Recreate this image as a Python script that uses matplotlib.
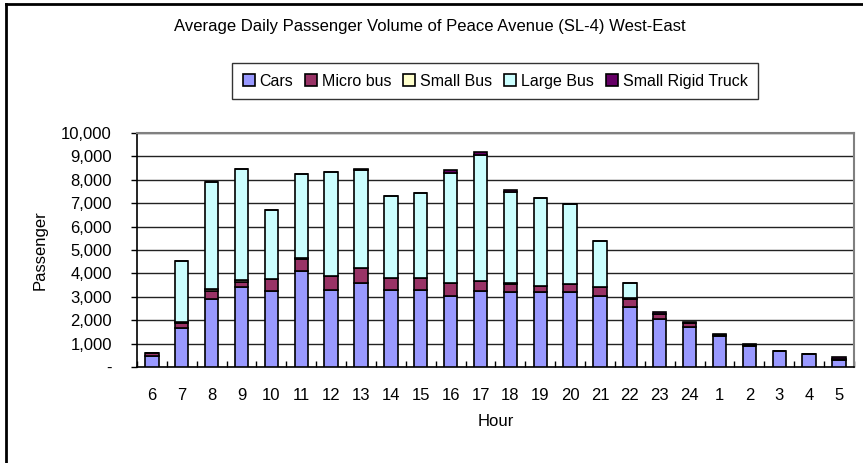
import matplotlib
matplotlib.use("Agg")
import matplotlib.pyplot as plt
import numpy as np
from matplotlib.ticker import FuncFormatter, FixedLocator

plt.rcParams['font.family'] = ['Liberation Sans', 'DejaVu Sans']

hours = ['6', '7', '8', '9', '10', '11', '12', '13', '14', '15', '16', '17',
         '18', '19', '20', '21', '22', '23', '24', '1', '2', '3', '4', '5']
cars = [450, 1650, 2900, 3400, 3250, 4100, 3300, 3600, 3300, 3300, 3050, 3250,
        3200, 3200, 3200, 3050, 2550, 2050, 1720, 1330, 910, 690, 560, 310]
micro_bus = [150, 230, 350, 250, 500, 500, 600, 650, 500, 500, 550, 420,
             330, 280, 330, 370, 350, 220, 180, 20, 20, 0, 0, 50]
small_bus = [0, 50, 100, 50, 0, 80, 0, 0, 0, 0, 0, 0,
             50, 0, 0, 0, 70, 0, 0, 0, 0, 0, 0, 0]
large_bus = [0, 2600, 4550, 4750, 2950, 3550, 4450, 4150, 3500, 3650, 4700, 5400,
             3900, 3750, 3450, 1950, 640, 0, 0, 0, 0, 0, 0, 0]
small_rigid_truck = [20, 0, 0, 0, 0, 0, 0, 80, 0, 0, 100, 110,
                     100, 0, 0, 0, 0, 80, 40, 50, 50, 0, 0, 50]

series = [
    ('Cars', cars, '#9999FF'),
    ('Micro bus', micro_bus, '#993366'),
    ('Small Bus', small_bus, '#FFFFCC'),
    ('Large Bus', large_bus, '#CCFFFF'),
    ('Small Rigid Truck', small_rigid_truck, '#660066'),
]

fig = plt.figure(figsize=(8.63, 4.63), dpi=100)
ax = fig.add_axes([0.1587, 0.2073, 0.8308, 0.5054])

x = np.arange(len(hours))
bottom = np.zeros(len(hours))
handles = []
for name, vals, color in series:
    vals = np.array(vals, dtype=float)
    b = ax.bar(x, vals, 0.45, bottom=bottom, color=color, edgecolor='black',
               linewidth=1.2, label=name, zorder=3)
    handles.append(b)
    bottom += vals

ax.set_xlim(-0.5, len(hours) - 0.5)
ax.set_ylim(0, 10000)
ax.set_yticks(np.arange(0, 10001, 1000))
ax.yaxis.set_major_formatter(FuncFormatter(lambda v, p: '-' if v == 0 else f'{v:,.0f}'))
ax.yaxis.grid(True, color='#222222', linewidth=1, zorder=0)

ax.set_xticks(x)
ax.set_xticklabels(hours)
ax.xaxis.set_minor_locator(FixedLocator(np.arange(-0.5, len(hours), 1)))
ax.tick_params(axis='x', which='major', length=0, pad=15, labelsize=12)
ax.tick_params(axis='x', which='minor', direction='in', length=4, width=1)
ax.tick_params(axis='y', which='major', length=4, width=1, pad=14, labelsize=12)

for s in ['top', 'right']:
    ax.spines[s].set_color('#808080')
    ax.spines[s].set_linewidth(1.5)
for s in ['left', 'bottom']:
    ax.spines[s].set_color('black')
    ax.spines[s].set_linewidth(1.2)

ax.set_xlabel('Hour', fontsize=12, labelpad=8)
fig.text(0.046, 0.46, 'Passenger', rotation=90, fontsize=12, ha='center', va='center')

fig.text(0.498, 0.942, 'Average Daily Passenger Volume of Peace Avenue (SL-4) West-East',
         fontsize=12, ha='center', va='center')

leg = fig.legend(handles=handles, loc='center', bbox_to_anchor=(0.5736, 0.825),
                 ncol=5, frameon=True, fancybox=False, shadow=False,
                 fontsize=11.5, handlelength=0.75, handleheight=0.8,
                 handletextpad=0.3, columnspacing=0.75, borderpad=0.65,
                 borderaxespad=0)
leg.get_frame().set_edgecolor('black')
leg.get_frame().set_linewidth(1)

# outer chart frame
fig.add_artist(plt.Line2D([6 / 863, 6 / 863], [0, 1 - 4 / 463], color='black', linewidth=2,
                          transform=fig.transFigure))
fig.add_artist(plt.Line2D([6 / 863, 1], [1 - 4 / 463, 1 - 4 / 463], color='black', linewidth=2,
                          transform=fig.transFigure))

fig.savefig('out.png', dpi=100)
